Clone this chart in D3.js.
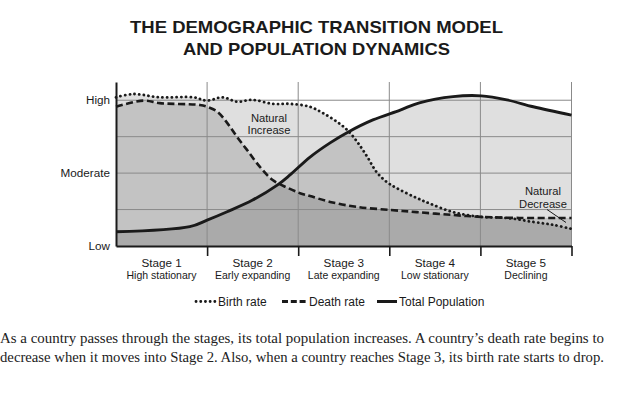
<!DOCTYPE html>
<html>
<head>
<meta charset="utf-8">
<script src="https://cdn.jsdelivr.net/npm/d3@7"></script>
<style>
  body { margin: 0; background: #fff; }
  svg { display: block; }
</style>
</head>
<body>
<div id="chart"></div>
<script>
// stage labels along the bottom
const stages = ["Stage 1", "Stage 2", "Stage 3", "Stage 4", "Stage 5"];
const stageNames = ["High stationary", "Early expanding", "Late expanding", "Low stationary", "Declining"];

// level labels on the left
const levelValues = [0, 2, 4];
const levelLabels = ["Low", "Moderate", "High"];

// curves, x in stage units (0..5), y in level units (0..4)
const birthX    = [0, 0.19, 0.48, 0.85, 1.0, 1.17, 1.33, 1.5, 1.72, 1.91, 2.13, 2.27, 2.43, 2.54, 2.65, 2.76, 2.86, 2.97, 3.08, 3.3, 3.45, 3.7, 4.0, 4.29, 4.58, 4.8, 5.0];
const birthRate = [4.08, 4.17, 4.08, 4.08, 3.99, 4.08, 3.96, 4.01, 3.9, 3.9, 3.82, 3.65, 3.4, 3.18, 2.85, 2.44, 2.03, 1.76, 1.59, 1.32, 1.16, 0.93, 0.8, 0.77, 0.66, 0.58, 0.47];

const deathX    = [0, 0.3, 0.48, 0.92, 1.0, 1.11, 1.22, 1.33, 1.44, 1.58, 1.72, 1.88, 2.02, 2.13, 2.35, 2.65, 3.01, 3.3, 3.7, 4.01, 4.43, 5.0];
const deathRate = [3.82, 3.99, 3.92, 3.87, 3.82, 3.69, 3.38, 2.99, 2.63, 2.17, 1.81, 1.6, 1.45, 1.37, 1.21, 1.07, 0.99, 0.93, 0.85, 0.8, 0.77, 0.77];

const popX      = [0, 0.81, 1.0, 1.22, 1.5, 1.77, 1.91, 2.13, 2.35, 2.55, 2.82, 3.12, 3.33, 3.7, 4.01, 4.29, 4.58, 5.0];
const population = [0.39, 0.53, 0.71, 0.94, 1.26, 1.67, 1.95, 2.44, 2.83, 3.13, 3.46, 3.73, 3.93, 4.1, 4.12, 4.01, 3.82, 3.59];

const caption = [
  "As a country passes through the stages, its total population increases. A country\u2019s death rate begins to",
  "decrease when it moves into Stage 2. Also, when a country reaches Stage 3, its birth rate starts to drop."
];

const width = 632, height = 398;
const sans = "'Liberation Sans', Arial, sans-serif";

const svg = d3.select("#chart").append("svg")
  .attr("width", width)
  .attr("height", height)
  .attr("font-family", sans);

let x = d3.scaleLinear().domain([0, 5]).range([116, 571.5]);
let y = d3.scaleLinear().domain([0, 4.5]).range([246, 82]);

// title
svg.append("g")
  .attr("font-weight", "bold")
  .attr("font-size", 17)
  .attr("text-anchor", "middle")
  .attr("fill", "#1a1a1a")
  .selectAll("text")
  .data(["THE DEMOGRAPHIC TRANSITION MODEL", "AND POPULATION DYNAMICS"])
  .join("text")
  .attr("x", 316.5)
  .attr("y", (d, i) => 32.8 + i * 22.2)
  .attr("textLength", (d, i) => i == 0 ? 373 : 267)
  .attr("lengthAdjust", "spacingAndGlyphs")
  .text(d => d);

function pts(xs, ys) {
  return xs.map((v, i) => [v, ys[i]]);
}
const series = [
  { name: "birth", data: pts(birthX, birthRate), dash: "0.1 4.6", width: 2.8, cap: "round" },
  { name: "death", data: pts(deathX, deathRate), dash: "7 3.5", width: 2.6, cap: "butt" },
  { name: "pop", data: pts(popX, population), dash: null, width: 2.9, cap: "butt" }
];

const curve = d3.curveCatmullRom.alpha(0.5);

let area = d3.area()
  .x(d => x(d[0]))
  .y0(y(0))
  .y1(d => y(d[1]))
  .curve(curve);

let line = d3.line()
  .x(d => x(d[0]))
  .y(d => y(d[1]))
  .curve(curve);

// shaded areas, stacked by transparency
svg.append("g").selectAll("path")
  .data(series)
  .join("path")
  .attr("d", d => area(d.data))
  .attr("fill", "#000")
  .attr("fill-opacity", 0.125);

// grid
const grid = svg.append("g").attr("stroke", "#8a8a8a").attr("stroke-width", 1);
grid.selectAll("line.h")
  .data([1, 2, 3, 4])
  .join("line")
  .attr("class", "h")
  .attr("x1", x(0)).attr("x2", x(5))
  .attr("y1", d => y(d)).attr("y2", d => y(d));
grid.selectAll("line.v")
  .data([1, 2, 3, 4, 5])
  .join("line")
  .attr("class", "v")
  .attr("x1", d => x(d)).attr("x2", d => x(d))
  .attr("y1", y(4.5)).attr("y2", y(0));

// curves
svg.append("g").selectAll("path")
  .data(series)
  .join("path")
  .attr("d", d => line(d.data))
  .attr("fill", "none")
  .attr("stroke", "#1a1a1a")
  .attr("stroke-width", d => d.width)
  .attr("stroke-linecap", d => d.cap)
  .attr("stroke-dasharray", d => d.dash);

// axes
const yAxis = svg.append("g")
  .attr("transform", `translate(${x(0)},0)`)
  .call(d3.axisLeft(y).tickValues(levelValues).tickFormat((d, i) => levelLabels[i]).tickSize(0).tickPadding(6).tickSizeOuter(0));
yAxis.select(".domain").attr("stroke", "#1a1a1a").attr("stroke-width", 2);
yAxis.selectAll("text").attr("font-family", sans).attr("font-size", 11.7).attr("fill", "#1a1a1a");

const xAxis = svg.append("g")
  .attr("transform", `translate(0,${y(0)})`)
  .call(d3.axisBottom(x).tickValues([1, 2, 3, 4, 5]).tickFormat("").tickSize(10).tickSizeOuter(0));
xAxis.select(".domain").attr("stroke", "#1a1a1a").attr("stroke-width", 2);
xAxis.selectAll(".tick line").attr("stroke", "#1a1a1a").attr("stroke-width", 1.6);

// stage labels
const stageG = svg.append("g").attr("text-anchor", "middle").attr("fill", "#1a1a1a");
stageG.selectAll("text.s")
  .data(stages)
  .join("text")
  .attr("class", "s")
  .attr("x", (d, i) => x(i + 0.5))
  .attr("y", 266.8)
  .attr("font-size", 11.7)
  .text(d => d);
stageG.selectAll("text.n")
  .data(stageNames)
  .join("text")
  .attr("class", "n")
  .attr("x", (d, i) => x(i + 0.5))
  .attr("y", 278.5)
  .attr("font-size", 10.5)
  .text(d => d);

// annotations, two lines each
const notes = [
  { lines: ["Natural", "Increase"], x: 269, y: 121.5 },
  { lines: ["Natural", "Decrease"], x: 543, y: 195 }
];
svg.append("g")
  .attr("text-anchor", "middle")
  .attr("font-size", 11.2)
  .attr("fill", "#1a1a1a")
  .selectAll("text")
  .data(notes)
  .join("text")
  .attr("y", d => d.y)
  .selectAll("tspan")
  .data(d => d.lines.map(l => ({ l: l, x: d.x })))
  .join("tspan")
  .attr("x", d => d.x)
  .attr("dy", (d, i) => i == 0 ? 0 : 12.7)
  .text(d => d.l);
svg.append("line")
  .attr("x1", 547).attr("y1", 209.5)
  .attr("x2", 566).attr("y2", 222.5)
  .attr("stroke", "#1a1a1a").attr("stroke-width", 1);

// legend
const legend = [
  { label: "Birth rate", x1: 196, x2: 216, tx: 218, dash: "0.1 4.6", width: 2.8, cap: "round" },
  { label: "Death rate", x1: 282, x2: 306, tx: 309, dash: "6 2.8", width: 2.8, cap: "butt" },
  { label: "Total Population", x1: 377, x2: 397, tx: 399, dash: null, width: 3, cap: "butt" }
];
const lg = svg.append("g");
lg.selectAll("line")
  .data(legend)
  .join("line")
  .attr("x1", d => d.x1).attr("x2", d => d.x2)
  .attr("y1", 301.5).attr("y2", 301.5)
  .attr("stroke", "#1a1a1a")
  .attr("stroke-width", d => d.width)
  .attr("stroke-linecap", d => d.cap)
  .attr("stroke-dasharray", d => d.dash);
lg.selectAll("text")
  .data(legend)
  .join("text")
  .attr("x", d => d.tx)
  .attr("y", 305.6)
  .attr("font-size", 12)
  .attr("fill", "#1a1a1a")
  .text(d => d.label);

// caption
svg.append("g")
  .attr("font-family", "'Liberation Serif', 'Times New Roman', serif")
  .attr("font-size", 14.2)
  .attr("fill", "#222")
  .selectAll("text")
  .data(caption)
  .join("text")
  .attr("x", 0)
  .attr("y", (d, i) => 343 + i * 19)
  .attr("textLength", 604)
  .attr("lengthAdjust", "spacingAndGlyphs")
  .text(d => d);
</script>
</body>
</html>
